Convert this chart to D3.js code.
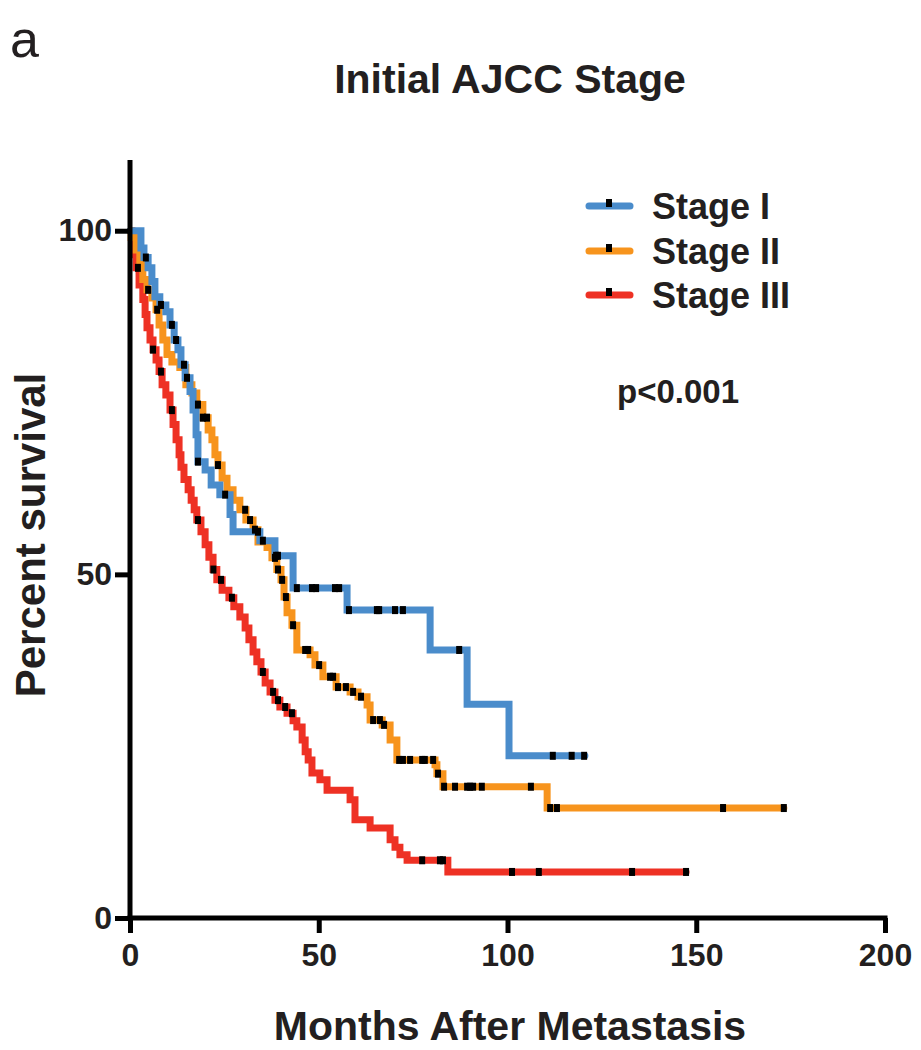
<!DOCTYPE html>
<html>
<head>
<meta charset="utf-8">
<script src="https://cdn.jsdelivr.net/npm/d3@7"></script>
<style>
  html, body { margin: 0; padding: 0; background: #fff; }
  svg { display: block; }
  text { font-family: "Liberation Sans", Arial, Helvetica, sans-serif; fill: #231f20; }
</style>
</head>
<body>
<svg id="chart" width="921" height="1050"></svg>
<script>
// ---- Data (time in months, percent survival after each drop) ----
const seriesNames = ["Stage I", "Stage II", "Stage III"];
const seriesColors = ["#4a8ccb", "#f7941d", "#ee3124"];

const stage1Steps = [[0,100],[2.9,97.5],[3.7,96.1],[4.8,94.6],[5.8,92.6],[6.6,90.4],[7.9,89.2],[9.5,88.2],[10.6,86.3],[11.7,84.1],[12.7,82.7],[13.5,80.5],[14.6,78.6],[15.9,76.6],[16.7,73.9],[17.5,70.3],[18.0,66.4],[19.9,65.2],[21.5,63.0],[23.8,61.6],[26.5,58.7],[27.3,56.2],[34.4,54.9],[38.4,52.7],[43.2,48.0],[57.5,44.8],[79.5,39.0],[89.3,31.1],[100.4,23.6]];
const stage1End = 120.5;
const stage1Censors = [4.2,8.2,11.1,12.2,14.3,15.1,18.0,25.2,33.9,35.2,38.7,39.2,44.2,48.2,49.3,54.3,55.4,58,65.4,66,70.2,72.3,87.2,112,117,120.3];

const stage2Steps = [[0,100],[0.3,99],[1.6,97.2],[2.6,95],[3.4,92.9],[4.5,91.4],[5.8,90.2],[6.9,88.5],[7.7,86.3],[8.7,84.1],[9.8,82],[11.1,80.9],[13.2,80.1],[14.8,77.6],[16.4,76.4],[17.7,74.7],[19.3,72.8],[20.7,71],[21.7,69.6],[22.5,67.4],[23.3,65.9],[24.4,64],[25.7,62.3],[27.3,60.8],[29.1,59.4],[30.7,57.9],[32.6,56.5],[33.9,54.7],[36.3,53.9],[37.6,52.4],[38.9,50.7],[40.0,49.2],[40.8,46.7],[41.6,44.4],[42.9,42.6],[44.2,39],[47.7,38.3],[49.0,36.8],[51.1,35.1],[54.6,33.6],[58.3,32.9],[60.4,32.2],[62.8,31],[63.6,28.8],[66.8,28.1],[68.9,25.9],[70.7,23],[80.8,22.3],[81.3,21],[82.9,19.1],[110.5,16]];
const stage2End = 173.2;
const stage2Censors = [4.8,7.2,18,19.3,20.4,23.3,30.5,31.8,33.1,38.4,39.2,40.3,41.3,43.2,46.4,47.2,50.1,53,53.8,55.1,57.2,59.1,61.2,64.4,66.2,67.3,71.3,72.3,74.2,77.4,78.1,80.3,81.6,83.2,86.1,89.3,90.1,90.9,93.2,106.2,111.3,113.1,157.1,173.2];

const stage3Steps = [[0,100],[0.5,98],[1.1,96.5],[1.6,94.6],[2.4,92.1],[3.4,90],[4.0,87.8],[4.5,85.9],[5.3,84.1],[6.1,82.7],[6.9,81.2],[7.7,79.5],[8.5,77.6],[9.5,76.1],[10.6,73.9],[11.4,71.8],[12.2,69.6],[13.0,67.4],[13.5,65.6],[14.3,63.8],[15.4,62.3],[16.2,60.8],[17.0,59.4],[17.7,57.9],[18.8,56.2],[19.9,54.3],[20.9,52.5],[22.0,50.7],[23.0,49.2],[24.4,47.7],[26.2,46.6],[27.5,45.3],[29.1,43.8],[30.5,42.2],[31.5,40.5],[32.6,38.7],[33.6,37.3],[34.7,35.8],[35.8,34.2],[37.1,32.9],[38.4,31.7],[39.7,30.7],[41.6,29.8],[43.2,28.7],[44.2,27.8],[45.6,25.9],[46.4,24.2],[47.2,23],[48.2,21.1],[50.3,20.1],[52.2,18.6],[58.3,17.2],[59.6,14.3],[63.6,13.1],[68.9,11.4],[70.2,10.3],[71.5,9.2],[73.4,8.4],[84.2,6.7]];
const stage3End = 147.3;
const stage3Censors = [2.1,6.1,8.2,11.1,18,22.1,24.1,27,35.2,37.9,39.2,41.1,42.9,77.4,82.1,82.9,101.2,108.3,133,147.3];

const xTicks = [0, 50, 100, 150, 200];
const yTicks = [0, 50, 100];

const series = [
  {name: seriesNames[0], color: seriesColors[0], steps: stage1Steps, end: stage1End, censors: stage1Censors},
  {name: seriesNames[1], color: seriesColors[1], steps: stage2Steps, end: stage2End, censors: stage2Censors},
  {name: seriesNames[2], color: seriesColors[2], steps: stage3Steps, end: stage3End, censors: stage3Censors}
];

// ---- Layout ----
const svg = d3.select("#chart");
const x = d3.scaleLinear().domain([0, 200]).range([130, 885]);
const y = d3.scaleLinear().domain([0, 110]).range([918, 162]);

function survAt(steps, t) {
  let s = steps[0][1];
  for (const st of steps) { if (st[0] <= t + 1e-9) s = st[1]; else break; }
  return s;
}

// curves (draw Stage III first so Stage I ends on top)
const line = d3.line().x(d => x(d[0])).y(d => y(d[1])).curve(d3.curveStepAfter);
const drawOrder = [2, 1, 0];
drawOrder.forEach(i => {
  const s = series[i];
  const pts = s.steps.concat([[s.end, s.steps[s.steps.length - 1][1]]]);
  svg.append("path")
    .attr("d", line(pts))
    .attr("fill", "none")
    .attr("stroke", s.color)
    .attr("stroke-width", 7)
    .attr("stroke-linejoin", "miter")
    .attr("stroke-linecap", "round");
});

// censor marks
drawOrder.forEach(i => {
  const s = series[i];
  svg.append("g").selectAll("rect").data(s.censors).join("rect")
    .attr("x", d => x(d) - 3)
    .attr("y", d => y(survAt(s.steps, d)) - 4)
    .attr("width", 6)
    .attr("height", 8)
    .attr("fill", "#000");
});

// axes
const xAxis = d3.axisBottom(x).tickValues(xTicks).tickSize(15).tickSizeOuter(0).tickPadding(10);
const gx = svg.append("g").attr("transform", "translate(0,918)").call(xAxis);
gx.select(".domain").attr("stroke", "#000").attr("stroke-width", 5).attr("d", "M127.5,0H887.5");
gx.selectAll(".tick line").attr("stroke", "#000").attr("stroke-width", 5);
gx.selectAll(".tick text").attr("font-size", 32).attr("font-weight", "bold").attr("fill", "#000")
  .style("font-family", "'Liberation Sans', Arial, sans-serif");

const yAxis = d3.axisLeft(y).tickValues(yTicks).tickSize(15).tickSizeOuter(0).tickPadding(3);
const gy = svg.append("g").attr("transform", "translate(130,0)").call(yAxis);
gy.select(".domain").attr("stroke", "#000").attr("stroke-width", 5).attr("d", "M0,160V920.5");
gy.selectAll(".tick line").attr("stroke", "#000").attr("stroke-width", 5);
gy.selectAll(".tick text").attr("font-size", 32).attr("font-weight", "bold").attr("fill", "#000")
  .style("font-family", "'Liberation Sans', Arial, sans-serif");

// titles
svg.append("text").attr("x", 10).attr("y", 57).attr("font-size", 52).text("a");
svg.append("text").attr("x", 510).attr("y", 93).attr("text-anchor", "middle")
  .attr("font-size", 41).attr("font-weight", "bold").text("Initial AJCC Stage");
svg.append("text").attr("x", 510).attr("y", 1040).attr("text-anchor", "middle")
  .attr("font-size", 41).attr("font-weight", "bold").text("Months After Metastasis");
svg.append("text").attr("transform", "translate(45,535) rotate(-90)").attr("text-anchor", "middle")
  .attr("font-size", 42).attr("font-weight", "bold").text("Percent survival");

// legend
const legendY = [206, 251, 295];
series.forEach((s, i) => {
  const g = svg.append("g");
  g.append("line").attr("x1", 589).attr("x2", 630).attr("y1", legendY[i]).attr("y2", legendY[i])
    .attr("stroke", s.color).attr("stroke-width", 7).attr("stroke-linecap", "round");
  g.append("rect").attr("x", 606).attr("y", legendY[i] - 7).attr("width", 6).attr("height", 8).attr("fill", "#000");
  g.append("text").attr("x", 652).attr("y", legendY[i] + 13).attr("font-size", 36).attr("font-weight", "bold").text(s.name);
});

svg.append("text").attr("x", 617).attr("y", 403).attr("font-size", 33).attr("font-weight", "bold").text("p<0.001");
</script>
</body>
</html>
